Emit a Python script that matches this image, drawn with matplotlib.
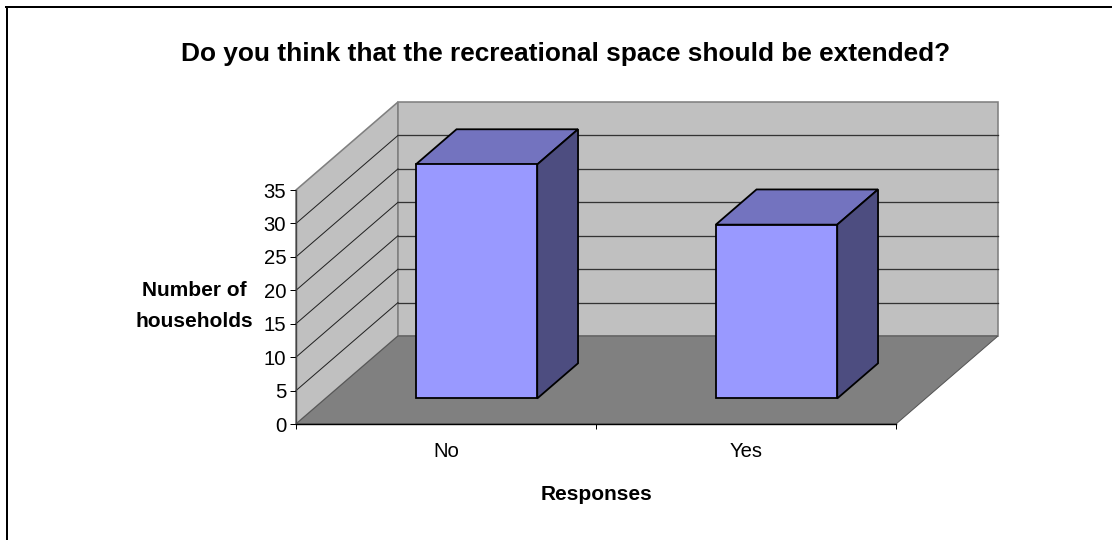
#!/usr/bin/env python3
"""Grafico de barras com aparencia 3D (estilo Excel) desenhado em eixos 2D."""

import matplotlib
matplotlib.use("Agg")
import matplotlib.pyplot as plt
from matplotlib.lines import Line2D
from matplotlib.patches import Polygon

plt.rcParams["font.family"] = ["Liberation Sans", "DejaVu Sans"]

TITLE = "Do you think that the recreational space should be extended?"
YLABEL = "Number of\nhouseholds"
XLABEL = "Responses"
CATEGORIES = ["No", "Yes"]
VALUES = [35, 26]
YTICKS = [0, 5, 10, 15, 20, 25, 30, 35]

W, H = 1112, 540
PX = 0.72  # 1 pixel em pontos (dpi 100)

# plano frontal em pixels
LEFT, RIGHT, BOTTOM, TOP = 296, 896, 424, 190

WALL = "#C0C0C0"
FLOOR = "#808080"
EDGE_WALL = "#808080"
BAR_FRONT = "#9999FF"
BAR_TOP = "#7373BF"
BAR_SIDE = "#4D4D80"

YMAX = YTICKS[-1]
# profundidade em unidades dos eixos
DEPTH_X = 102 / ((RIGHT - LEFT) / len(CATEGORIES))
DEPTH_Y = 88 / ((BOTTOM - TOP) / YMAX)
BAR_WIDTH = 0.405
BAR_CENTER = 0.503
BAR_D0, BAR_D1 = 0.29, 0.69


def poly(ax, pts, face, edge, lw, z):
    ax.add_patch(Polygon(pts, closed=True, facecolor=face, edgecolor=edge,
                         linewidth=lw * PX, joinstyle="miter", clip_on=False, zorder=z))


def draw_walls(ax):
    n = len(CATEGORIES)
    poly(ax, [(0, 0), (DEPTH_X, DEPTH_Y), (DEPTH_X, YMAX + DEPTH_Y), (0, YMAX)],
         WALL, EDGE_WALL, 1.6, 1)
    poly(ax, [(DEPTH_X, DEPTH_Y), (n + DEPTH_X, DEPTH_Y),
              (n + DEPTH_X, YMAX + DEPTH_Y), (DEPTH_X, YMAX + DEPTH_Y)],
         WALL, EDGE_WALL, 1.6, 1)
    for t in YTICKS[1:-1]:
        ax.plot([0, DEPTH_X], [t, t + DEPTH_Y], color="#222222", lw=1 * PX,
                clip_on=False, zorder=2)
        ax.plot([DEPTH_X, n + DEPTH_X], [t + DEPTH_Y, t + DEPTH_Y], color="#333333",
                lw=1.3 * PX, clip_on=False, zorder=2)
    poly(ax, [(0, 0), (n, 0), (n + DEPTH_X, DEPTH_Y), (DEPTH_X, DEPTH_Y)],
         FLOOR, "#555555", 1, 3)


def draw_bars(ax):
    for i, v in enumerate(VALUES):
        x0 = i + BAR_CENTER - BAR_WIDTH / 2 + BAR_D0 * DEPTH_X
        x1 = x0 + BAR_WIDTH
        y0 = BAR_D0 * DEPTH_Y
        y1 = y0 + v
        dx = (BAR_D1 - BAR_D0) * DEPTH_X
        dy = (BAR_D1 - BAR_D0) * DEPTH_Y
        poly(ax, [(x0, y1), (x1, y1), (x1 + dx, y1 + dy), (x0 + dx, y1 + dy)],
             BAR_TOP, "black", 1.8, 5)
        poly(ax, [(x1, y0), (x1 + dx, y0 + dy), (x1 + dx, y1 + dy), (x1, y1)],
             BAR_SIDE, "black", 1.8, 5)
        poly(ax, [(x0, y0), (x1, y0), (x1, y1), (x0, y1)],
             BAR_FRONT, "black", 1.8, 6)


def main():
    fig = plt.figure(figsize=(W / 100, H / 100), dpi=100, facecolor="white")
    ax = fig.add_axes([LEFT / W, 1 - BOTTOM / H, (RIGHT - LEFT) / W, (BOTTOM - TOP) / H])
    ax.patch.set_visible(False)
    ax.set_xlim(0, len(CATEGORIES))
    ax.set_ylim(0, YMAX)

    draw_walls(ax)
    draw_bars(ax)

    for side in ("top", "right"):
        ax.spines[side].set_visible(False)
    ax.spines["left"].set_linewidth(1.4 * PX)
    ax.spines["left"].set_color("#444444")
    ax.spines["bottom"].set_linewidth(1.4 * PX)
    ax.spines["bottom"].set_zorder(7)

    ax.set_yticks(YTICKS)
    ax.tick_params(axis="y", length=4, width=1 * PX, labelsize=14.6, pad=3)
    ax.set_xticks(range(len(CATEGORIES) + 1))
    ax.set_xticklabels([])
    ax.tick_params(axis="x", which="major", length=3.6, width=1 * PX)
    ax.set_xticks([i + 0.5 for i in range(len(CATEGORIES))], minor=True)
    ax.set_xticklabels(CATEGORIES, minor=True, fontsize=14.6)
    ax.tick_params(axis="x", which="minor", length=0, pad=13)

    fig.text(566 / W, 1 - 53.5 / H, TITLE, fontsize=18.9, fontweight="bold",
             ha="center", va="center")
    fig.text(194 / W, 1 - 306 / H, YLABEL, fontsize=15, fontweight="bold",
             ha="center", va="center", linespacing=1.82)
    fig.text(596.5 / W, 1 - 494 / H, XLABEL, fontsize=15, fontweight="bold",
             ha="center", va="center")

    # moldura: so a esquerda e o topo aparecem no recorte
    fig.add_artist(Line2D([6.5 / W, 6.5 / W], [0, 1 - 7 / H], color="black", lw=2 * PX))
    fig.add_artist(Line2D([6 / W, 1], [1 - 7 / H, 1 - 7 / H], color="black", lw=2 * PX))

    fig.savefig("out.png", dpi=100)
    plt.close(fig)


if __name__ == "__main__":
    main()
